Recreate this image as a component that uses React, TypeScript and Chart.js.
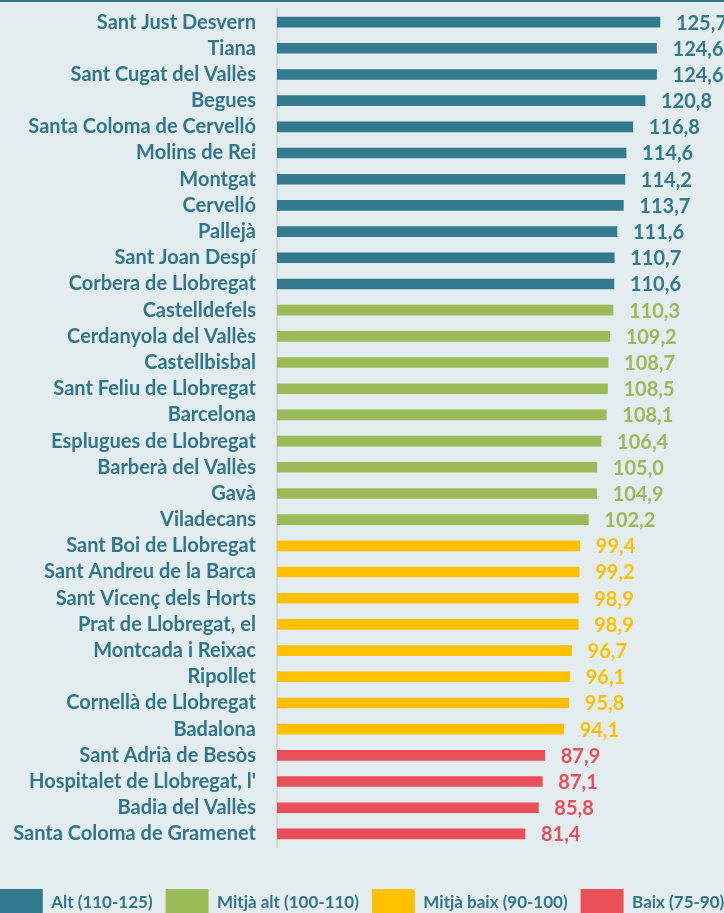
import React, { useEffect, useRef } from "react";
import { Chart, registerables } from "chart.js";

Chart.register(...registerables);

const categories = [
  "Sant Just Desvern", "Tiana", "Sant Cugat del Vallès", "Begues",
  "Santa Coloma de Cervelló", "Molins de Rei", "Montgat", "Cervelló",
  "Pallejà", "Sant Joan Despí", "Corbera de Llobregat", "Castelldefels",
  "Cerdanyola del Vallès", "Castellbisbal", "Sant Feliu de Llobregat", "Barcelona",
  "Esplugues de Llobregat", "Barberà del Vallès", "Gavà", "Viladecans",
  "Sant Boi de Llobregat", "Sant Andreu de la Barca", "Sant Vicenç dels Horts", "Prat de Llobregat, el",
  "Montcada i Reixac", "Ripollet", "Cornellà de Llobregat", "Badalona",
  "Sant Adrià de Besòs", "Hospitalet de Llobregat, l'", "Badia del Vallès", "Santa Coloma de Gramenet",
];

const values = [
  125.7, 124.6, 124.6, 120.8, 116.8, 114.6, 114.2, 113.7,
  111.6, 110.7, 110.6, 110.3, 109.2, 108.7, 108.5, 108.1,
  106.4, 105.0, 104.9, 102.2, 99.4, 99.2, 98.9, 98.9,
  96.7, 96.1, 95.8, 94.1, 87.9, 87.1, 85.8, 81.4,
];

// group index per category: 0 Alt, 1 Mitjà alt, 2 Mitjà baix, 3 Baix
const groupOf = [
  0, 0, 0, 0, 0, 0, 0, 0,
  0, 0, 0, 1, 1, 1, 1, 1,
  1, 1, 1, 1, 2, 2, 2, 2,
  2, 2, 2, 2, 3, 3, 3, 3,
];

const groupLabels = ["Alt (110-125)", "Mitjà alt (100-110)", "Mitjà baix (90-100)", "Baix (75-90)"];
const groupColors = ["#337a8e", "#9bbb59", "#ffc000", "#ea4f59"];

const TEXT = "#31768b";
const BG = "#e3ecef";
const FONT = "Lato";
const SHIFT = 18;

const valueLabels = {
  id: "valueLabels",
  afterDatasetsDraw(chart: any) {
    const ctx = chart.ctx;
    ctx.save();
    ctx.font = `bold 20px ${FONT}`;
    ctx.textAlign = "left";
    ctx.textBaseline = "middle";
    chart.data.datasets.forEach((ds: any, di: number) => {
      const meta = chart.getDatasetMeta(di);
      meta.data.forEach((el: any, i: number) => {
        const v = ds.data[i];
        if (v === null || v === undefined) return;
        ctx.fillStyle = ds.backgroundColor;
        ctx.fillText(v.toFixed(1).replace(".", ","), el.x + 16, el.y + 1);
      });
    });
    ctx.restore();
  },
};

export default function App() {
  const ref = useRef<HTMLCanvasElement>(null);
  useEffect(() => {
    document.body.style.margin = "0";
    document.body.style.background = BG;
    const datasets = groupLabels.map((label, k) => ({
      label,
      data: values.map((v, i) => (groupOf[i] === k ? v : null)),
      backgroundColor: groupColors[k],
      borderWidth: 0,
      barThickness: 10,
    }));
    const chart = new Chart(ref.current!, {
      type: "bar",
      data: { labels: categories, datasets },
      plugins: [valueLabels],
      options: {
        indexAxis: "y",
        animation: false,
        responsive: false,
        maintainAspectRatio: false,
        layout: { padding: { top: 7, right: 0, left: 0, bottom: 0 } },
        scales: {
          x: {
            stacked: true,
            min: 0,
            max: 130,
            display: true,
            ticks: { display: false },
            grid: { display: false, drawTicks: false },
            border: { display: false },
            afterFit: (s: any) => { s.height = 29; s.paddingLeft = 0; s.paddingRight = 0; },
          },
          y: {
            stacked: true,
            grid: { display: false, drawTicks: false },
            border: { display: true, color: "#d3dadd", width: 2 },
            ticks: {
              autoSkip: false,
              color: TEXT,
              font: { family: FONT, size: 20, weight: "bold" },
              padding: 21,
            },
            afterFit: (s: any) => { s.width = 277 + SHIFT; s.paddingTop = 0; s.paddingBottom = 0; },
          },
          y2: {
            type: "linear",
            position: "right",
            display: true,
            min: 0,
            max: 1,
            ticks: { display: false },
            grid: { display: false, drawTicks: false },
            border: { display: false },
            afterFit: (s: any) => { s.width = 51 + SHIFT; s.paddingTop = 0; s.paddingBottom = 0; },
          },
        },
        plugins: {
          tooltip: { enabled: false },
          legend: {
            position: "bottom",
            labels: {
              boxWidth: 43,
              boxHeight: 28,
              padding: 13,
              color: TEXT,
              font: { family: FONT, size: 17, weight: "bold" },
            },
          },
        },
      },
    });
    return () => chart.destroy();
  }, []);
  return (
    <div style={{ background: BG, borderTop: "2px solid #2f788d", width: 724, overflow: "hidden" }}>
      <canvas
        ref={ref}
        width={724 + 2 * SHIFT}
        height={925}
        style={{ display: "block", marginLeft: -SHIFT }}
      />
    </div>
  );
}
